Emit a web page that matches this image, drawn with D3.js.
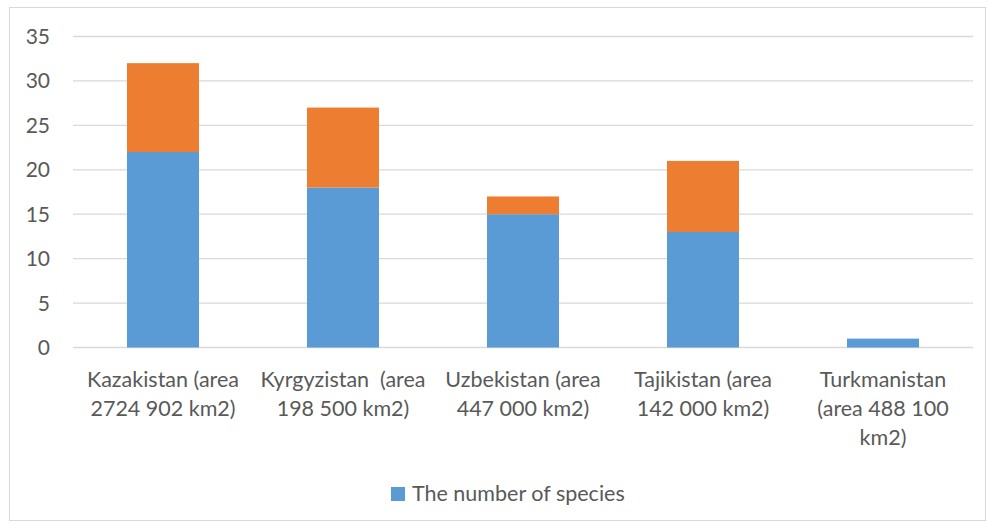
<!DOCTYPE html>
<html><head><meta charset="utf-8">
<script src="https://cdn.jsdelivr.net/npm/d3@7"></script>
<style>body{margin:0;background:#fff;} text{font-family:Lato,"Open Sans",sans-serif;fill:#595959;}</style>
</head><body>
<svg id="c" width="989" height="524"></svg>
<script>
const categories = [
  ["Kazakistan (area", "2724 902 km2)"],
  ["Kyrgyzistan  (area", "198 500 km2)"],
  ["Uzbekistan (area", "447 000 km2)"],
  ["Tajikistan (area", "142 000 km2)"],
  ["Turkmanistan", "(area 488 100", "km2)"]
];
const speciesValues = [22, 18, 15, 13, 1];
const otherValues = [10, 9, 2, 8, 0];
const yTicks = [0, 5, 10, 15, 20, 25, 30, 35];
const legendLabel = "The number of species";

const svg = d3.select("#c");
svg.append("rect").attr("x", 9.5).attr("y", 7.5).attr("width", 976).attr("height", 513)
  .attr("fill", "#fff").attr("stroke", "#D9D9D9");

const x = d3.scaleBand().domain(d3.range(categories.length)).range([73, 973]).paddingInner(0.6).paddingOuter(0.3);
const y = d3.scaleLinear().domain([0, 35]).range([347.5, 36.5]);

// gridlines
svg.append("g").selectAll("line").data(yTicks).join("line")
  .attr("x1", 73).attr("x2", 973).attr("y1", d => y(d)).attr("y2", d => y(d))
  .attr("stroke", "#D9D9D9").attr("stroke-width", 1.3);

// y axis labels
svg.append("g").selectAll("text").data(yTicks).join("text")
  .attr("x", 50).attr("y", d => y(d)).attr("dy", "0.36em").attr("text-anchor", "end")
  .style("font-size", "21px").text(d => d);

const stack = d3.stack().keys(["a", "b"])(speciesValues.map((v, i) => ({a: v, b: otherValues[i]})));
const colors = ["#5B9BD5", "#ED7D31"];
stack.forEach((s, si) => {
  svg.append("g").selectAll("rect").data(s).join("rect")
    .attr("x", (d, i) => x(i)).attr("width", x.bandwidth())
    .attr("y", d => y(d[1])).attr("height", d => y(d[0]) - y(d[1]))
    .attr("fill", colors[si]);
});

// category labels
const cl = svg.append("g").selectAll("text").data(categories).join("text")
  .attr("text-anchor", "middle").style("font-size", "21.5px");
cl.each(function(lines, i) {
  const t = d3.select(this);
  lines.forEach((l, j) => {
    t.append("tspan").attr("x", x(i) + x.bandwidth() / 2).attr("y", 387 + j * 29).attr("xml:space", "preserve").text(l);
  });
});

// legend
svg.append("rect").attr("x", 391).attr("y", 487).attr("width", 14).attr("height", 14).attr("fill", colors[0]);
svg.append("text").attr("x", 412).attr("y", 501).style("font-size", "21.5px").text(legendLabel);
</script>
</body></html>
